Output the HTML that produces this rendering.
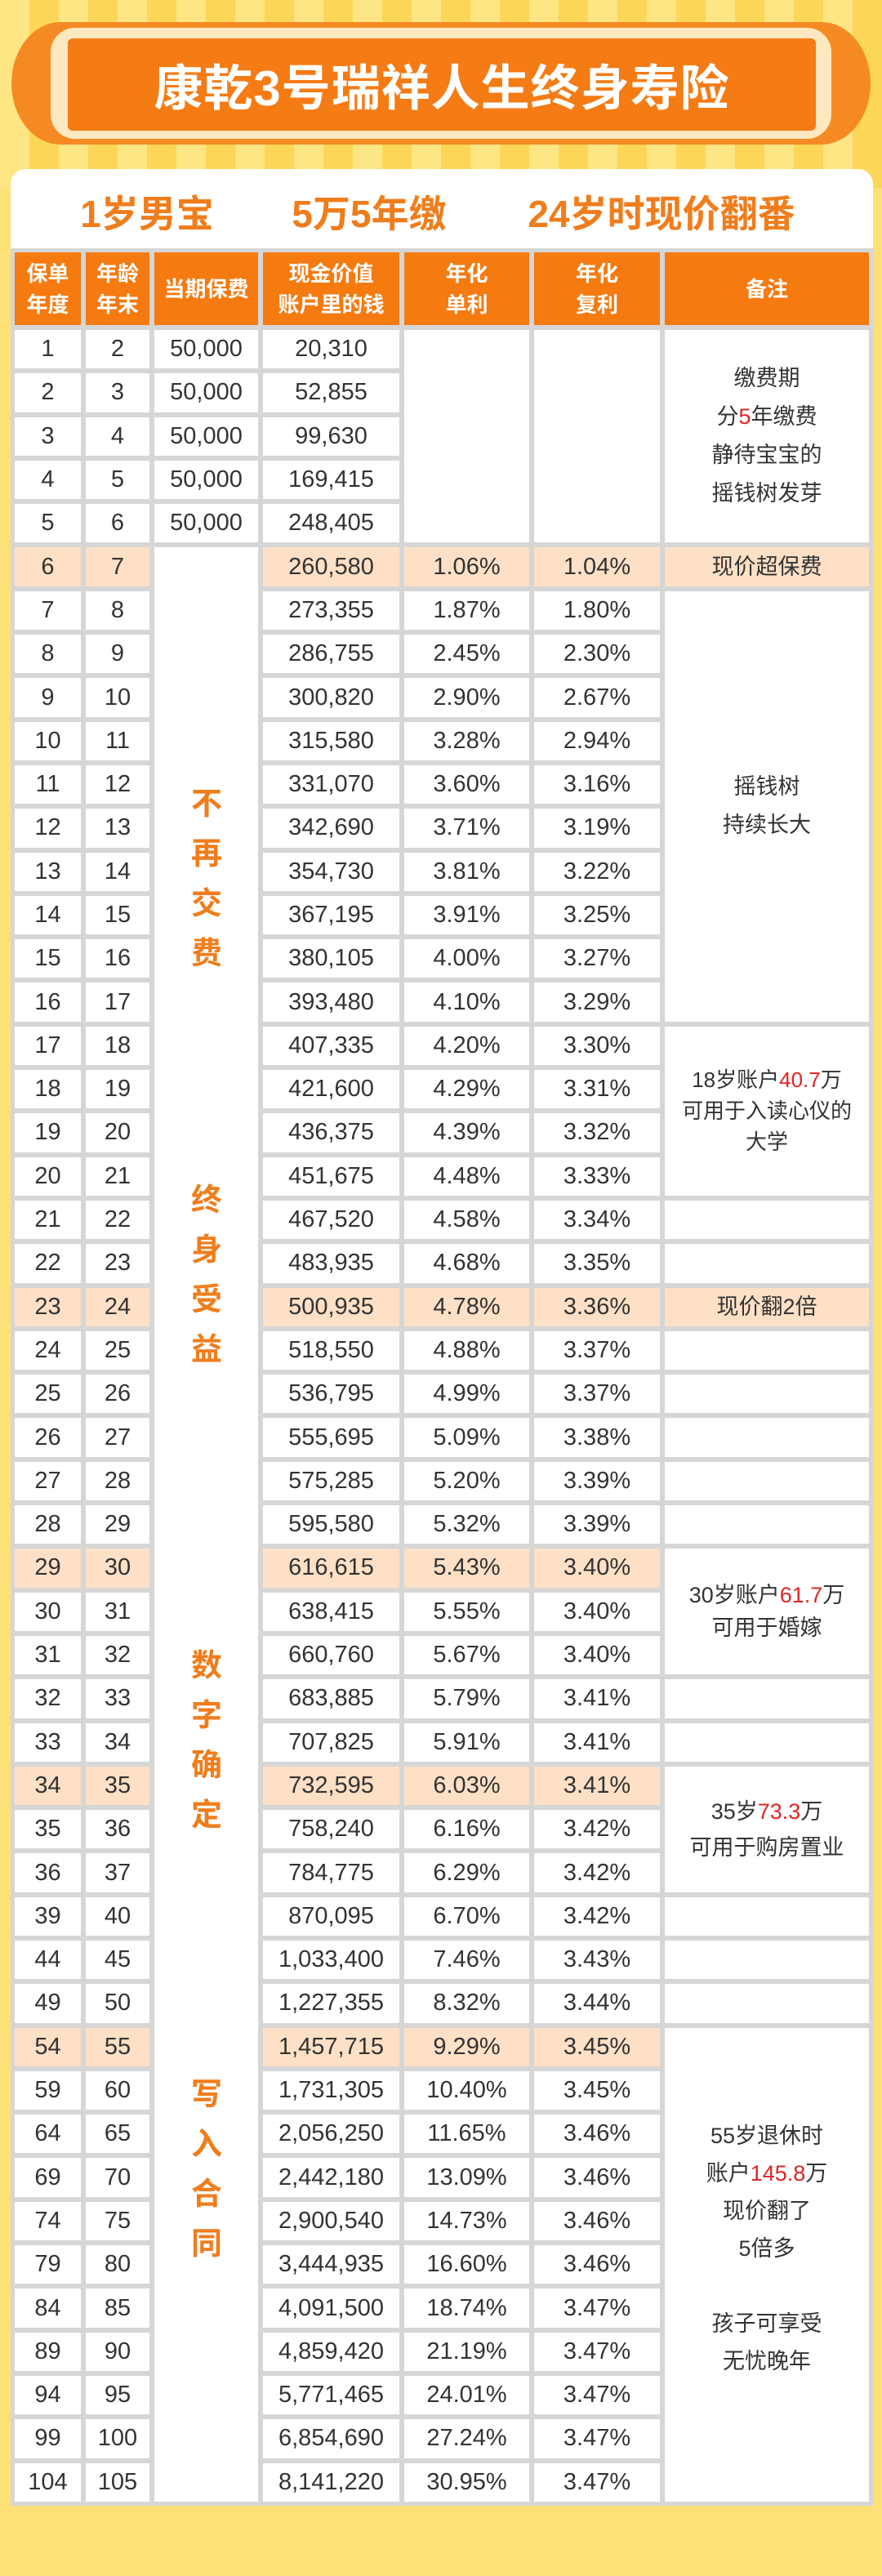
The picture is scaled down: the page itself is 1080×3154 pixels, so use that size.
<!DOCTYPE html>
<html><head><meta charset="utf-8">
<style>
*{margin:0;padding:0;box-sizing:border-box}
body{width:1080px;height:3154px;background:#fde176;position:relative;overflow:hidden;font-family:"Liberation Sans","Noto Sans CJK SC",sans-serif;}
.stripes{position:absolute;left:0;top:0;width:1080px;height:230px;background:repeating-linear-gradient(90deg,#fde683 0 36px,#fcd658 36px 72px);}
.outer{position:absolute;left:14px;top:27px;width:1052px;height:150px;background:#f58a25;border-radius:60px/75px;}
.mid{position:absolute;left:62px;top:34px;width:956px;height:136px;background:#fde8c0;border-radius:30px;}
.inner{position:absolute;left:83px;top:47px;width:916px;height:113px;background:#f57b14;border-radius:6px;display:flex;align-items:center;justify-content:center;color:#fff;font-weight:bold;font-size:60px;letter-spacing:1px;}
.panel{position:absolute;left:13px;top:207px;width:1056px;height:110px;background:#fff;border-radius:18px 18px 0 0;}
.sub{position:absolute;top:226px;font-size:46px;font-weight:bold;color:#f07d1c;transform:translateX(-50%);white-space:nowrap}
.grid{position:absolute;left:13px;top:304px;width:1056px;padding:5px;background:#d6d6d6;display:grid;grid-template-columns:81px 78px 127px 167px 153px 154px 250px;grid-template-rows:89px repeat(50,47.3px);gap:6px;}
.grid>div{background:#fff;display:flex;align-items:center;justify-content:center;text-align:center;font-size:29px;color:#333;line-height:47px}
.grid>.h{background:#f57a10;color:#fff;font-weight:bold;font-size:26px;line-height:38px}
.grid>.y{background:#fde0c6}
.grid>.n{font-size:27px;line-height:47px}
.grid p{display:block}
.r{color:#e02424}
.vt{position:absolute;left:228px;width:50px;text-align:center;color:#f07d1c;font-weight:bold;font-size:38px;line-height:61px}
</style></head><body>
<div class="stripes"></div>
<div class="outer"></div>
<div class="mid"></div>
<div class="inner">康乾3号瑞祥人生终身寿险</div>
<div class="panel"></div>
<div class="sub" style="left:180px">1岁男宝</div>
<div class="sub" style="left:452px">5万5年缴</div>
<div class="sub" style="left:810px">24岁时现价翻番</div>

<div class="grid">
<div class="h"><p>保单<br>年度</p></div><div class="h"><p>年龄<br>年末</p></div><div class="h">当期保费</div><div class="h"><p>现金价值<br>账户里的钱</p></div><div class="h"><p>年化<br>单利</p></div><div class="h"><p>年化<br>复利</p></div><div class="h">备注</div>

<div>1</div><div>2</div><div>50,000</div><div>20,310</div><div style="grid-row:span 5"></div><div style="grid-row:span 5"></div><div class="n" style="grid-row:span 5"><p>缴费期<br>分<span class="r">5</span>年缴费<br>静待宝宝的<br>摇钱树发芽</p></div>
<div>2</div><div>3</div><div>50,000</div><div>52,855</div>
<div>3</div><div>4</div><div>50,000</div><div>99,630</div>
<div>4</div><div>5</div><div>50,000</div><div>169,415</div>
<div>5</div><div>6</div><div>50,000</div><div>248,405</div>

<div class="y">6</div><div class="y">7</div><div style="grid-row:span 45"></div><div class="y">260,580</div><div class="y">1.06%</div><div class="y">1.04%</div><div class="y n">现价超保费</div>
<div>7</div><div>8</div><div>273,355</div><div>1.87%</div><div>1.80%</div><div class="n" style="grid-row:span 10"><p>摇钱树<br>持续长大</p></div>
<div>8</div><div>9</div><div>286,755</div><div>2.45%</div><div>2.30%</div>
<div>9</div><div>10</div><div>300,820</div><div>2.90%</div><div>2.67%</div>
<div>10</div><div>11</div><div>315,580</div><div>3.28%</div><div>2.94%</div>
<div>11</div><div>12</div><div>331,070</div><div>3.60%</div><div>3.16%</div>
<div>12</div><div>13</div><div>342,690</div><div>3.71%</div><div>3.19%</div>
<div>13</div><div>14</div><div>354,730</div><div>3.81%</div><div>3.22%</div>
<div>14</div><div>15</div><div>367,195</div><div>3.91%</div><div>3.25%</div>
<div>15</div><div>16</div><div>380,105</div><div>4.00%</div><div>3.27%</div>
<div>16</div><div>17</div><div>393,480</div><div>4.10%</div><div>3.29%</div>
<div>17</div><div>18</div><div>407,335</div><div>4.20%</div><div>3.30%</div><div class="n" style="grid-row:span 4;line-height:38px;font-size:26px"><p>18岁账户<span class="r">40.7</span>万<br>可用于入读心仪的<br>大学</p></div>
<div>18</div><div>19</div><div>421,600</div><div>4.29%</div><div>3.31%</div>
<div>19</div><div>20</div><div>436,375</div><div>4.39%</div><div>3.32%</div>
<div>20</div><div>21</div><div>451,675</div><div>4.48%</div><div>3.33%</div>
<div>21</div><div>22</div><div>467,520</div><div>4.58%</div><div>3.34%</div><div></div>
<div>22</div><div>23</div><div>483,935</div><div>4.68%</div><div>3.35%</div><div></div>
<div class="y">23</div><div class="y">24</div><div class="y">500,935</div><div class="y">4.78%</div><div class="y">3.36%</div><div class="y n">现价翻2倍</div>
<div>24</div><div>25</div><div>518,550</div><div>4.88%</div><div>3.37%</div><div></div>
<div>25</div><div>26</div><div>536,795</div><div>4.99%</div><div>3.37%</div><div></div>
<div>26</div><div>27</div><div>555,695</div><div>5.09%</div><div>3.38%</div><div></div>
<div>27</div><div>28</div><div>575,285</div><div>5.20%</div><div>3.39%</div><div></div>
<div>28</div><div>29</div><div>595,580</div><div>5.32%</div><div>3.39%</div><div></div>
<div class="y">29</div><div class="y">30</div><div class="y">616,615</div><div class="y">5.43%</div><div class="y">3.40%</div><div class="n" style="grid-row:span 3;line-height:40px;font-size:27px"><p>30岁账户<span class="r">61.7</span>万<br>可用于婚嫁</p></div>
<div>30</div><div>31</div><div>638,415</div><div>5.55%</div><div>3.40%</div>
<div>31</div><div>32</div><div>660,760</div><div>5.67%</div><div>3.40%</div>
<div>32</div><div>33</div><div>683,885</div><div>5.79%</div><div>3.41%</div><div></div>
<div>33</div><div>34</div><div>707,825</div><div>5.91%</div><div>3.41%</div><div></div>
<div class="y">34</div><div class="y">35</div><div class="y">732,595</div><div class="y">6.03%</div><div class="y">3.41%</div><div class="n" style="grid-row:span 3;line-height:44px;font-size:27px"><p>35岁<span class="r">73.3</span>万<br>可用于购房置业</p></div>
<div>35</div><div>36</div><div>758,240</div><div>6.16%</div><div>3.42%</div>
<div>36</div><div>37</div><div>784,775</div><div>6.29%</div><div>3.42%</div>
<div>39</div><div>40</div><div>870,095</div><div>6.70%</div><div>3.42%</div><div></div>
<div>44</div><div>45</div><div>1,033,400</div><div>7.46%</div><div>3.43%</div><div></div>
<div>49</div><div>50</div><div>1,227,355</div><div>8.32%</div><div>3.44%</div><div></div>
<div class="y">54</div><div class="y">55</div><div class="y">1,457,715</div><div class="y">9.29%</div><div class="y">3.45%</div><div class="n" style="grid-row:span 11;line-height:46px;padding-bottom:40px"><p>55岁退休时<br>账户<span class="r">145.8</span>万<br>现价翻了<br>5倍多<br>&nbsp;<br>孩子可享受<br>无忧晚年</p></div>
<div>59</div><div>60</div><div>1,731,305</div><div>10.40%</div><div>3.45%</div>
<div>64</div><div>65</div><div>2,056,250</div><div>11.65%</div><div>3.46%</div>
<div>69</div><div>70</div><div>2,442,180</div><div>13.09%</div><div>3.46%</div>
<div>74</div><div>75</div><div>2,900,540</div><div>14.73%</div><div>3.46%</div>
<div>79</div><div>80</div><div>3,444,935</div><div>16.60%</div><div>3.46%</div>
<div>84</div><div>85</div><div>4,091,500</div><div>18.74%</div><div>3.47%</div>
<div>89</div><div>90</div><div>4,859,420</div><div>21.19%</div><div>3.47%</div>
<div>94</div><div>95</div><div>5,771,465</div><div>24.01%</div><div>3.47%</div>
<div>99</div><div>100</div><div>6,854,690</div><div>27.24%</div><div>3.47%</div>
<div>104</div><div>105</div><div>8,141,220</div><div>30.95%</div><div>3.47%</div>
</div>

<div class="vt" style="top:955px">不<br>再<br>交<br>费</div>
<div class="vt" style="top:1440px">终<br>身<br>受<br>益</div>
<div class="vt" style="top:2010px">数<br>字<br>确<br>定</div>
<div class="vt" style="top:2535px">写<br>入<br>合<br>同</div>
</body></html>
